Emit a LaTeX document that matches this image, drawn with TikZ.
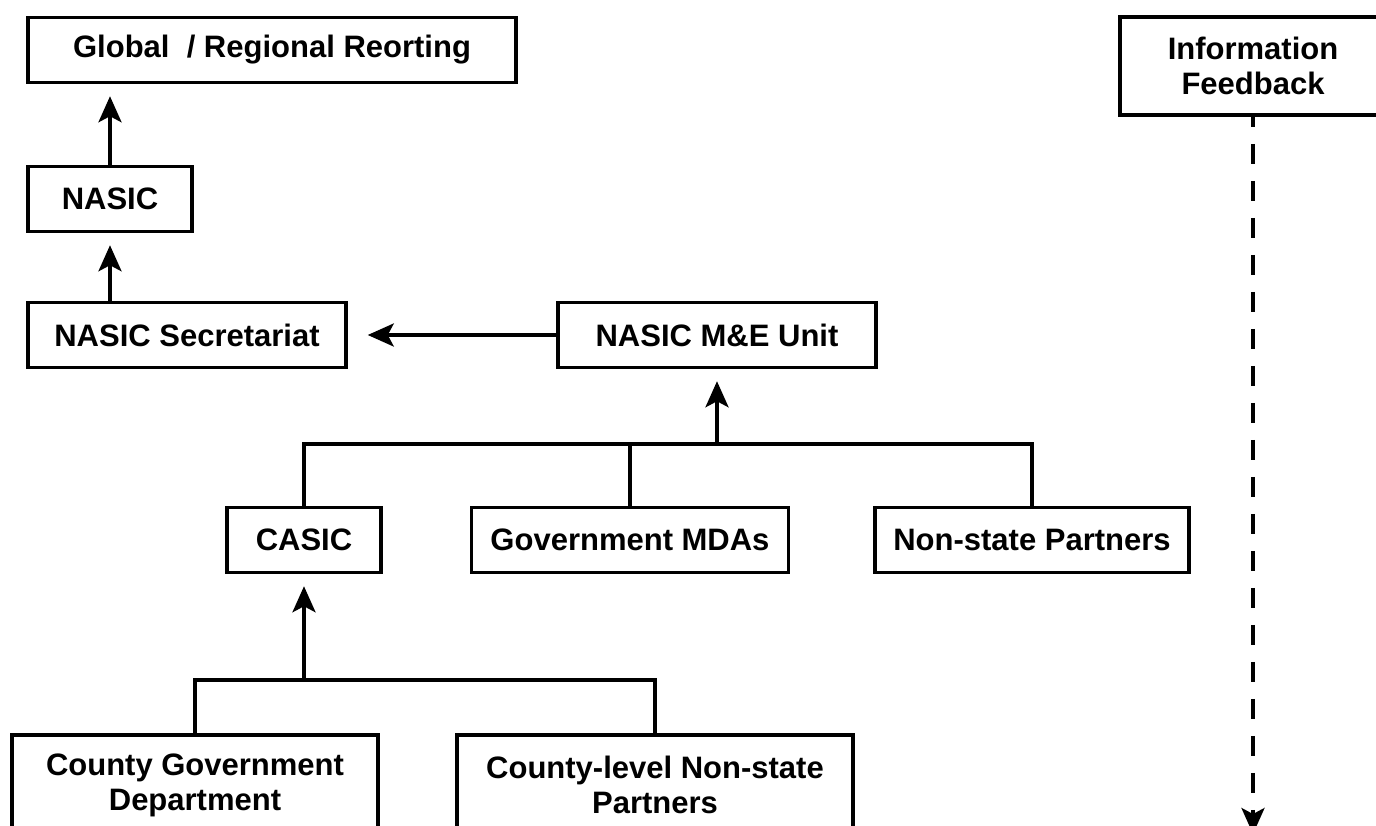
\documentclass[tikz,border=0pt]{standalone}
\usepackage{fontspec}
\setmainfont{Liberation Sans}
\usetikzlibrary{arrows.meta, positioning}

\begin{document}
\begin{tikzpicture}[x=1pt, y=-1pt,
    box/.style={draw, line width=3.5pt, minimum height=65pt, inner sep=0pt,
      align=center, font=\fontsize{31}{35}\selectfont\bfseries},
    link/.style={line width=3.5pt},
    arr/.style={link, -{Stealth[length=26pt, width=23pt, inset=6pt]}, shorten >=12pt},
    fdash/.style={link, -{Stealth[length=26pt, width=23pt, inset=6pt]},
      dash pattern=on 20pt off 17pt, dash phase=10pt}]
  \useasboundingbox (0,0) rectangle (1376,825);
  \clip (0,0) rectangle (1376,825);
  % left column
  \node[box, minimum width=488pt] (glob) at (272,50) {Global~~/ Regional Reorting};
  \node[box, minimum width=164pt] (nasic) at (110,199) {NASIC};
  \node[box, minimum width=318pt] (secr) at (187,335) {NASIC Secretariat};
  \node[box, minimum width=318pt] (mne) at (717,335) {NASIC M\&E Unit};
  % second level
  \node[box, minimum width=154pt] (casic) at (304,540) {CASIC};
  \node[box, minimum width=317pt] (mdas) at (630,540) {Government MDAs};
  \node[box, minimum width=314pt] (nsp) at (1032,540) {Non-state Partners};
  % county level
  \node[box, minimum width=366pt, minimum height=100pt] (cgd) at (195,785) {County Government\\Department};
  \node[box, minimum width=396pt, minimum height=100pt] (cnsp) at (655,785) {County-level Non-state\\Partners};
  % feedback
  \node[box, minimum width=266pt, minimum height=98pt] (feed) at (1253,66) {Information\\Feedback};
  \coordinate (j1) at (717,444);
  \coordinate (j2) at (304,680);
  \coordinate (fb) at (1253,834);

  \draw[arr] (nasic) -- (nasic |- glob.south);
  \draw[arr] (secr.north -| nasic) -- (nasic);
  \draw[arr, shorten >=20pt] (mne) -- (secr);
  \draw[link] (casic.north) |- (nsp.north |- j1) -- (nsp.north);
  \draw[link] (mdas.north) -- (mdas.north |- j1);
  \draw[arr] (j1) -- (mne);
  \draw[link] (cgd.north) |- (cnsp.north |- j2) -- (cnsp.north);
  \draw[arr] (j2) -- (casic);
  \draw[fdash] (feed) -- (fb);
\end{tikzpicture}
\end{document}
